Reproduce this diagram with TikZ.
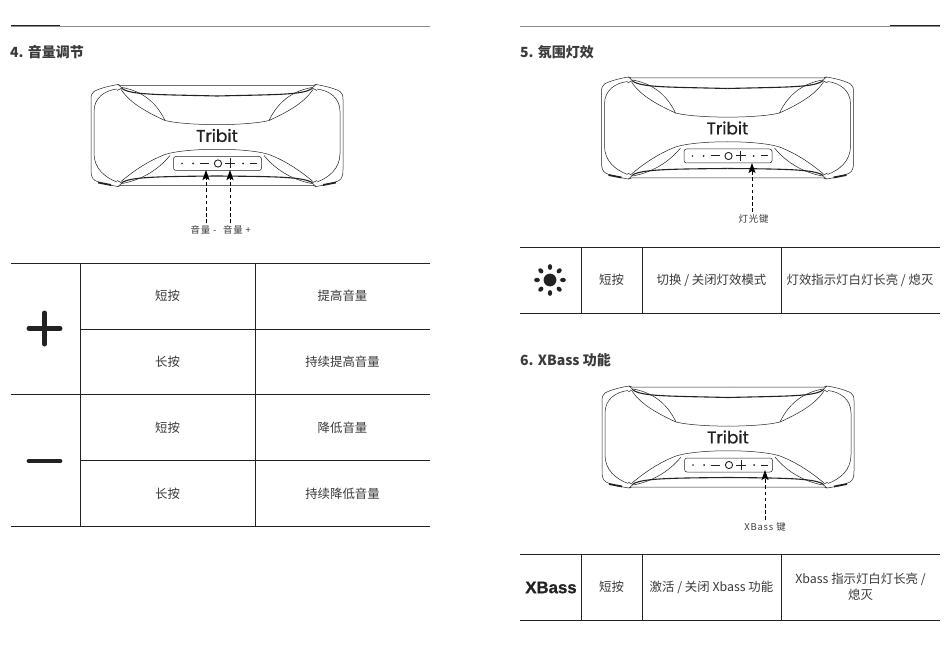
\documentclass[tikz,border=0pt]{standalone}
\usepackage{fontspec}
\setmainfont{Noto Sans CJK SC}
\newfontfamily\spacedfont[LetterSpace=9]{Noto Sans CJK SC}
\newfontfamily\logofont[FakeBold=0.6]{Poppins}
\newfontfamily\xbassfont[BoldFeatures={FakeBold=0.8}]{Liberation Sans}
\usetikzlibrary{arrows.meta}
\definecolor{ink}{HTML}{222222}
\definecolor{txt}{HTML}{3A3A3A}
\tikzset{
  rule/.style={draw=ink,line width=0.9pt},
  cell/.style={font=\fontsize{12.4}{16}\selectfont,text=txt,align=center,inner sep=0pt},
  callout/.style={font=\spacedfont\fontsize{9.4}{11}\selectfont,text=txt,inner sep=0pt},
  heading/.style={font=\fontsize{14}{16}\selectfont\bfseries,text=txt,anchor=west,inner sep=0pt},
  dasharrow/.style={draw=black,line width=0.9pt,dash pattern=on 3.6pt off 2.6pt,-{Stealth[length=10pt,width=7pt,inset=2pt]}},
  bodyline/.style={draw=ink,line width=0.5pt},
  thickline/.style={draw=ink,line width=1.1pt},
  pics/speaker/.style={code={
    \foreach \m in {1,-1}{
      \begin{scope}[xscale=\m]
        % outer shell
        \draw[bodyline] (0,-50) -- (-96,-50) -- (-99,-51) .. controls (-108,-49.5) and (-118,-47) .. (-123,-44)
          .. controls (-125.5,-42) and (-126,-40) .. (-126,-36) -- (-126,34)
          .. controls (-126,40) and (-125,43) .. (-122,45) .. controls (-116,48) and (-106,50) .. (-99,51) -- (-96,50) -- (0,50);
        % inner rounded outline
        \draw[bodyline] (-100,-46.5) .. controls (-112,-45) and (-123,-38) .. (-123,-24) -- (-123,18)
          .. controls (-123,33) and (-112,42) .. (-100,46.5);
        % notches
        \draw[bodyline] (-99,-51) -- (-95,-47.5) -- (-100,-45);
        \draw[bodyline] (-99,51) -- (-95,47.5) -- (-100,45);
        % top leaf
        \draw[bodyline] (-96,-46) .. controls (-88,-34) and (-74,-25) .. (-52,-15);
        \draw[bodyline] (-95,-48) .. controls (-78,-45) and (-62,-36) .. (-52,-15);
        % bottom leaf
        \draw[bodyline] (-96,46) .. controls (-84,36) and (-70,26) .. (-52,19);
        \draw[bodyline] (-95,48) .. controls (-78,45) and (-60,36) .. (-47,20);
        % thick bars
        \draw[thickline] (-95,-47) .. controls (-86,-40.5) and (-60,-41) .. (0,-39.5);
        \draw[thickline] (-95,47) .. controls (-86,41.5) and (-60,41) .. (0,40.5);
        % foot
        \draw[draw=ink,line width=1.8pt] (-119,47) -- (-106,49.5);
      \end{scope}
    }
    \draw[bodyline] (-52,-15) .. controls (-30,-9.5) and (30,-9.5) .. (52,-15);
    \draw[bodyline] (-52,19) .. controls (-30,12) and (30,12) .. (52,19);
    % logo
    \node[inner sep=0pt,font=\logofont\fontsize{17}{17}\selectfont,text=ink] at (0,0) {Tribit};
    % control panel
    \draw[bodyline,rounded corners=2.5pt] (-43.5,21) rectangle (44.5,35);
    \fill[ink] (-35,28) circle (0.9pt) (-24,28) circle (1pt);
    \draw[ink,line width=1pt] (-17,28) -- (-8,28);
    \draw[ink,line width=0.9pt] (1,28) circle (3.6pt);
    \draw[ink,line width=1pt] (8,28) -- (18,28) (13,23) -- (13,33);
    \fill[ink] (26,28) circle (1pt);
    \draw[ink,line width=1pt] (33,28) -- (40,28);
  }}
}
\begin{document}
\begin{tikzpicture}[x=1pt,y=-1pt]
\useasboundingbox (0,0) rectangle (950,647);
\fill[white] (0,0) rectangle (950,647);

% page rules
\draw[draw=black!45,line width=0.8pt] (11,26) -- (430,26) (520,26) -- (940,26);
\draw[draw=ink,line width=1pt] (11,26) -- (60,26) (890,26) -- (940,26);

% headings
\node[heading] (h4) at (10,52.5) {4. 音量调节};
\node[heading] (h5) at (520,52.5) {5. 氛围灯效};
\node[heading] (h6) at (520,360.5) {6. XBass 功能};

% speakers
\pic (s1) at (217,135.5) {speaker};
\pic (s2) at (727.5,128) {speaker};
\pic (s3) at (728,437) {speaker};

% callouts
\node[callout] (lminus) at (203.5,229.5) {音量 -};
\node[callout] (lplus) at (237,229.5) {音量 +};
\node[callout] (llight) at (753.5,218.5) {灯光键};
\node[callout] (lxbass) at (765,526.5) {XBass 键};
\coordinate (aminus) at (206,170);
\coordinate (aplus) at (230,170);
\coordinate (alight) at (752,163);
\coordinate (axbass) at (765,470);
\coordinate (sminus) at (206,223);
\coordinate (splus) at (230,223);
\coordinate (slight) at (752,212);
\coordinate (sxbass) at (765,520);
\draw[dasharrow] (sminus) -- (aminus);
\draw[dasharrow] (splus) -- (aplus);
\draw[dasharrow] (slight) -- (alight);
\draw[dasharrow] (sxbass) -- (axbass);

% table 1
\foreach \y in {263,394,526} \draw[rule] (11,\y) -- (430,\y);
\foreach \y in {329,460} \draw[rule] (80,\y) -- (430,\y);
\draw[rule] (80,263) -- (80,526) (255,263) -- (255,526);
\draw[ink,line width=5pt,line cap=round] (29,328.5) -- (60,328.5) (44.5,313) -- (44.5,344);
\draw[ink,line width=4.8pt,line cap=round] (29,461) -- (60,461);
\node[cell] (a1) at (167.5,296) {短按};
\node[cell] (b1) at (342.5,296) {提高音量};
\node[cell] (a2) at (167.5,362) {长按};
\node[cell] (b2) at (342.5,362) {持续提高音量};
\node[cell] (a3) at (167.5,427.5) {短按};
\node[cell] (b3) at (342.5,427.5) {降低音量};
\node[cell] (a4) at (167.5,493.5) {长按};
\node[cell] (b4) at (342.5,493.5) {持续降低音量};

% table 2
\draw[rule] (520,247) -- (940,247) (520,313) -- (940,313);
\draw[rule] (581,247) -- (581,313) (642,247) -- (642,313) (781,247) -- (781,313);
\fill[ink] (550,280) circle (6.4pt);
\foreach \a in {0,45,...,315}
  \fill[ink,shift={(550,280)},rotate=\a] (13,0) ellipse (2.9pt and 2.2pt);
\node[cell] (c1) at (611.5,280) {短按};
\node[cell] (c2) at (711.5,280) {切换 / 关闭灯效模式};
\node[cell] (c3) at (860,280) {灯效指示灯白灯长亮 / 熄灭};

% table 3
\draw[rule] (520,554) -- (940,554) (520,620.5) -- (940,620.5);
\draw[rule] (581,554) -- (581,620.5) (642,554) -- (642,620.5) (781,554) -- (781,620.5);
\node[inner sep=0pt,text=ink,font=\xbassfont\bfseries\fontsize{16.8}{18}\selectfont] (xb) at (551,587.5) {XBass};
\node[cell] (d1) at (611.5,587) {短按};
\node[cell] (d2) at (711.5,587) {激活 / 关闭 Xbass 功能};
\node[cell] (d3) at (860.5,587) {Xbass 指示灯白灯长亮 /\\熄灭};
\end{tikzpicture}
\end{document}
